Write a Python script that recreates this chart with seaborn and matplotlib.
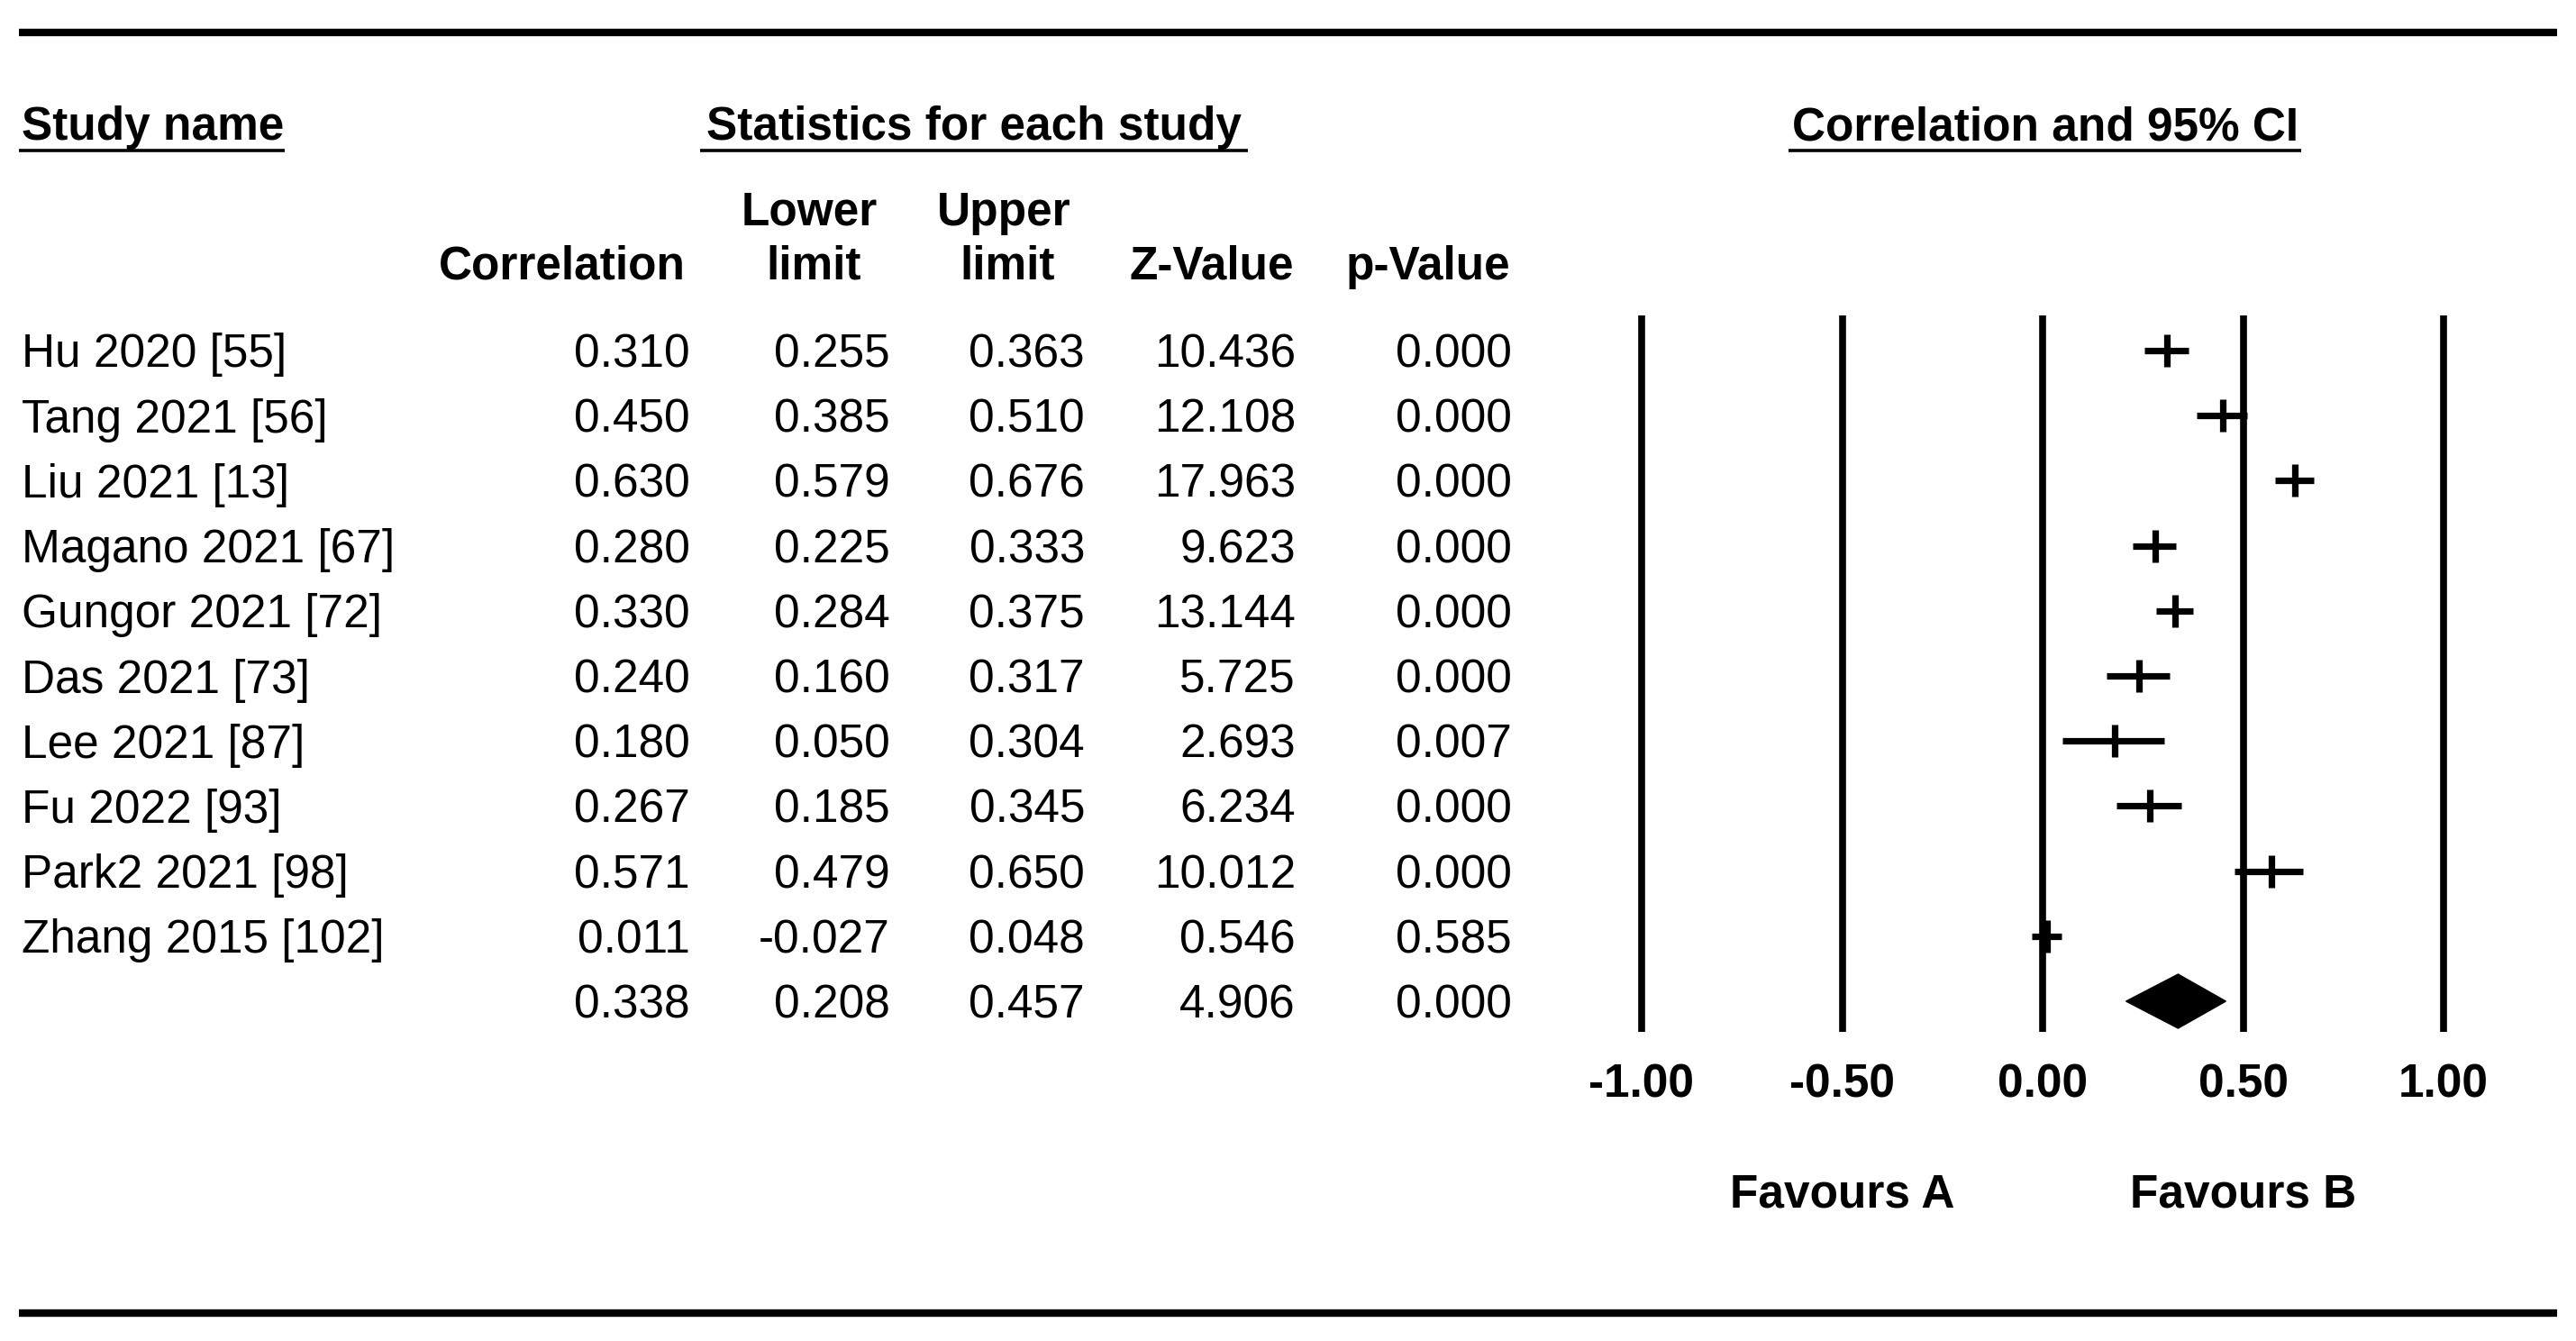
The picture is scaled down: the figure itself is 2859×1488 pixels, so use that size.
import matplotlib
matplotlib.use("Agg")
import matplotlib.pyplot as plt
import seaborn as sns
import pandas as pd
import numpy as np

studies = ["Hu 2020 [55]", "Tang 2021 [56]", "Liu 2021 [13]", "Magano 2021 [67]",
           "Gungor 2021 [72]", "Das 2021 [73]", "Lee 2021 [87]", "Fu 2022 [93]",
           "Park2 2021 [98]", "Zhang 2015 [102]"]
corr = [0.310, 0.450, 0.630, 0.280, 0.330, 0.240, 0.180, 0.267, 0.571, 0.011]
lower = [0.255, 0.385, 0.579, 0.225, 0.284, 0.160, 0.050, 0.185, 0.479, -0.027]
upper = [0.363, 0.510, 0.676, 0.333, 0.375, 0.317, 0.304, 0.345, 0.650, 0.048]
zval = [10.436, 12.108, 17.963, 9.623, 13.144, 5.725, 2.693, 6.234, 10.012, 0.546]
pval = [0.000, 0.000, 0.000, 0.000, 0.000, 0.000, 0.007, 0.000, 0.000, 0.585]
pooled = {"corr": 0.338, "lower": 0.208, "upper": 0.457, "z": 4.906, "p": 0.000}
xticks = [-1.0, -0.5, 0.0, 0.5, 1.0]
xtick_labels = ["-1.00", "-0.50", "0.00", "0.50", "1.00"]
favours = ["Favours A", "Favours B"]

sns.set_theme(style="white")
plt.rcParams["font.family"] = ["Liberation Sans", "DejaVu Sans"]
plt.rcParams["text.color"] = "black"

W, H, DPI = 2859, 1488, 100
fig = plt.figure(figsize=(W / DPI, H / DPI), dpi=DPI)

# Table axes in pixel coordinates
tab = fig.add_axes([0, 0, 1, 1])
tab.set_xlim(0, W)
tab.set_ylim(H, 0)
tab.axis("off")

FS = 37
ROW0, DY = 389, 72.2
BASE_OFF = 18.5

def row_px(i):
    return ROW0 + DY * i

# top / bottom rules
tab.plot([21, 2838], [35.5, 35.5], color="black", lw=6, solid_capstyle="butt")
tab.plot([21, 2838], [1457, 1457], color="black", lw=6, solid_capstyle="butt")

# section headers
tab.text(24, 155, "Study name", fontsize=FS, fontweight="bold", ha="left", va="baseline")
tab.plot([21, 316], [167, 167], color="black", lw=2.6, solid_capstyle="butt")
tab.text(1081, 155, "Statistics for each study", fontsize=FS, fontweight="bold", ha="center", va="baseline")
tab.plot([777, 1385], [167, 167], color="black", lw=2.6, solid_capstyle="butt")
tab.text(2270, 155, "Correlation and 95% CI", fontsize=FS, fontweight="bold", ha="center", va="baseline")
tab.plot([1985, 2554], [167, 167], color="black", lw=2.6, solid_capstyle="butt")

# column headers
tab.text(761, 310, "Correlation", fontsize=FS, fontweight="bold", ha="right", va="baseline")
tab.text(898, 250, "Lower", fontsize=FS, fontweight="bold", ha="center", va="baseline")
tab.text(903, 310, "limit", fontsize=FS, fontweight="bold", ha="center", va="baseline")
tab.text(1114, 250, "Upper", fontsize=FS, fontweight="bold", ha="center", va="baseline")
tab.text(1118, 310, "limit", fontsize=FS, fontweight="bold", ha="center", va="baseline")
tab.text(1436, 310, "Z-Value", fontsize=FS, fontweight="bold", ha="right", va="baseline")
tab.text(1676, 310, "p-Value", fontsize=FS, fontweight="bold", ha="right", va="baseline")

col_right = [766, 988, 1204, 1438, 1678]
for i, name in enumerate(studies):
    yb = row_px(i) + BASE_OFF
    tab.text(24, yb, name, fontsize=FS, ha="left", va="baseline")
    vals = [f"{corr[i]:.3f}", f"{lower[i]:.3f}", f"{upper[i]:.3f}", f"{zval[i]:.3f}", f"{pval[i]:.3f}"]
    for xr, v in zip(col_right, vals):
        tab.text(xr, yb, v, fontsize=FS, ha="right", va="baseline")
yb = row_px(10) + BASE_OFF
pvals = [f"{pooled['corr']:.3f}", f"{pooled['lower']:.3f}", f"{pooled['upper']:.3f}",
         f"{pooled['z']:.3f}", f"{pooled['p']:.3f}"]
for xr, v in zip(col_right, pvals):
    tab.text(xr, yb, v, fontsize=FS, ha="right", va="baseline")

# Forest axes: x=-1 at px 1822, x=1 at px 2712
PPU = (2712 - 1822) / 2.0
x0 = -1.1
x1 = 1.1
left_px = 1822 - 0.1 * PPU
width_px = 2.2 * PPU
ax = fig.add_axes([left_px / W, 0, width_px / W, 1])

df = pd.DataFrame({"study": studies, "corr": corr, "lower": lower, "upper": upper,
                   "row": np.arange(len(studies))})

# vertical reference lines
ytop = (350 - ROW0) / DY
ybot = (1145 - ROW0) / DY
ax.vlines(xticks, ytop, ybot, color="black", lw=5.5)

# CIs
ax.hlines(df["row"], df["lower"], df["upper"], color="black", lw=5.2, capstyle="butt")
sns.scatterplot(data=df, x="corr", y="row", marker="|", s=26 ** 2, linewidth=5.2,
                color="black", ax=ax, legend=False, zorder=3)
ax.set_xlim(x0, x1)
ax.set_ylim((H - ROW0) / DY, -ROW0 / DY)
ax.axis("off")

# pooled diamond
h = 30 / DY
ax.fill([pooled["lower"], pooled["corr"], pooled["upper"], pooled["corr"]],
        [10, 10 - h, 10, 10 + h], color="black", zorder=3)

# tick labels
for xv, lab in zip(xticks, xtick_labels):
    ax.text(xv, (1217 - ROW0) / DY, lab, fontsize=FS, fontweight="bold", ha="center", va="baseline")
ax.text(-0.5, (1340 - ROW0) / DY, favours[0], fontsize=FS, fontweight="bold", ha="center", va="baseline")
ax.text(0.5, (1340 - ROW0) / DY, favours[1], fontsize=FS, fontweight="bold", ha="center", va="baseline")

fig.savefig("out.png", dpi=DPI, facecolor="white")
